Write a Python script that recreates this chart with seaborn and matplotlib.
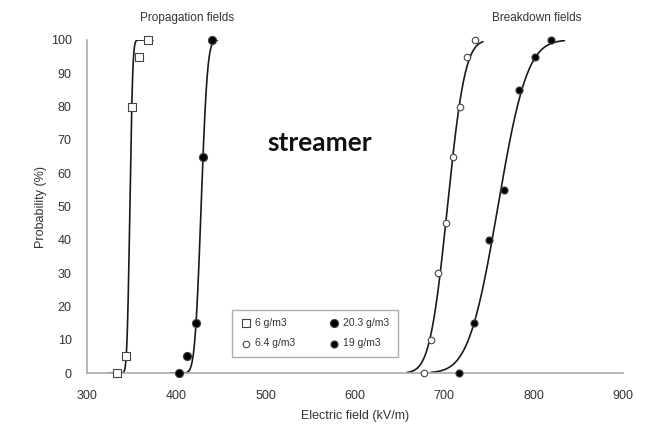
import math
import numpy as np
import pandas as pd
import matplotlib
matplotlib.use("Agg")
import matplotlib.pyplot as plt
import seaborn as sns

# ---- data ----
prop6_x = [334, 344, 350, 358, 368]
prop6_y = [0, 5, 80, 95, 100]
prop20_x = [403, 412, 422, 430, 440]
prop20_y = [0, 5, 15, 65, 100]
brk64_x = [677, 685, 693, 702, 710, 718, 725, 734]
brk64_y = [0, 10, 30, 45, 65, 80, 95, 100]
brk19_x = [716, 733, 750, 767, 784, 802, 819]
brk19_y = [0, 15, 40, 55, 85, 95, 100]
labels = ["6 g/m3", "6.4 g/m3", "20.3 g/m3", "19 g/m3"]

x_ticks = [300, 400, 500, 600, 700, 800, 900]
y_ticks = [0, 10, 20, 30, 40, 50, 60, 70, 80, 90, 100]

series = {
    "6 g/m3": (prop6_x, prop6_y),
    "20.3 g/m3": (prop20_x, prop20_y),
    "6.4 g/m3": (brk64_x, brk64_y),
    "19 g/m3": (brk19_x, brk19_y),
}


def ncdf(x, mu, s):
    return 50.0 * (1.0 + np.vectorize(math.erf)((np.asarray(x) - mu) / (s * math.sqrt(2))))


def fit(xs, ys):
    xs = np.asarray(xs, float)
    ys = np.asarray(ys, float)
    best = None
    for mu in np.arange(xs.min(), xs.max(), 0.25):
        for s in np.arange(1.0, 40.0, 0.25):
            err = np.sum((ncdf(xs, mu, s) - ys) ** 2)
            if best is None or err < best[0]:
                best = (err, mu, s)
    return best[1], best[2]


sns.set_theme(style="white")
plt.rcParams["font.family"] = ["Liberation Sans", "DejaVu Sans"]

fig = plt.figure(figsize=(6.56, 4.28), dpi=100)
ax = fig.add_axes([87 / 656, 1 - 373 / 428, (623 - 87) / 656, (373 - 40) / 428])

# fitted curves
for name, (xs, ys) in series.items():
    mu, s = fit(xs, ys)
    lo = min(xs) - max(10, 1.2 * s)
    hi = max(xs) + max(6, 0.6 * s)
    xx = np.linspace(lo, hi, 300)
    cdf = pd.DataFrame({"x": xx, "y": ncdf(xx, mu, s)})
    sns.lineplot(data=cdf, x="x", y="y", ax=ax, color="#1a1a1a", lw=1.2,
                 legend=False, zorder=2)

styles = {
    "6 g/m3": dict(marker="s", facecolor="white", s=28),
    "6.4 g/m3": dict(marker="o", facecolor="white", s=22),
    "20.3 g/m3": dict(marker="o", facecolor="black", s=34),
    "19 g/m3": dict(marker="o", facecolor="black", s=26),
}
for name in labels:
    xs, ys = series[name]
    df = pd.DataFrame({"x": xs, "y": ys})
    st = styles[name]
    sns.scatterplot(data=df, x="x", y="y", ax=ax, marker=st["marker"], s=st["s"],
                    facecolor=st["facecolor"], edgecolor="#444444", linewidth=0.8,
                    label=name, zorder=3, clip_on=False)

ax.set_xlim(300, 900)
ax.set_ylim(0, 100)
ax.set_xticks(x_ticks)
ax.set_yticks(y_ticks)
ax.tick_params(axis="both", labelsize=9, colors="#999999", labelcolor="#333333",
               length=3, width=0.8)
ax.tick_params(axis="x", direction="in", pad=12)
ax.tick_params(axis="y", direction="out", pad=8)
for sp in ["top", "right"]:
    ax.spines[sp].set_visible(False)
for sp in ["left", "bottom"]:
    ax.spines[sp].set_color("#aaaaaa")
    ax.spines[sp].set_linewidth(1.2)

ax.set_xlabel("Electric field (kV/m)", fontsize=9, color="#333333", labelpad=6)
ax.set_ylabel("Probability (%)", fontsize=9, color="#333333", labelpad=3)

fig.text(187 / 656, 1 - 18 / 428, "Propagation fields", ha="center", va="center",
         fontsize=8.5, color="#333333")
fig.text(537 / 656, 1 - 18 / 428, "Breakdown fields", ha="center", va="center",
         fontsize=8.5, color="#333333")
fig.text(320 / 656, 1 - 143 / 428, "streamer", ha="center", va="center",
         fontsize=19, fontweight="bold", color="#111111", family=["Lato", "DejaVu Sans"])

leg = ax.legend(ncol=2, loc="lower left", bbox_to_anchor=((227 - 87) / 536, (373 - 362) / 333),
                fontsize=7.5, frameon=True, fancybox=False, edgecolor="#999999",
                handletextpad=0.4, columnspacing=3.2, labelspacing=1.0,
                borderpad=0.8, handlelength=1.0)
leg.get_frame().set_linewidth(1.0)
for t in leg.get_texts():
    t.set_color("#333333")

fig.savefig("out.png", dpi=100)
